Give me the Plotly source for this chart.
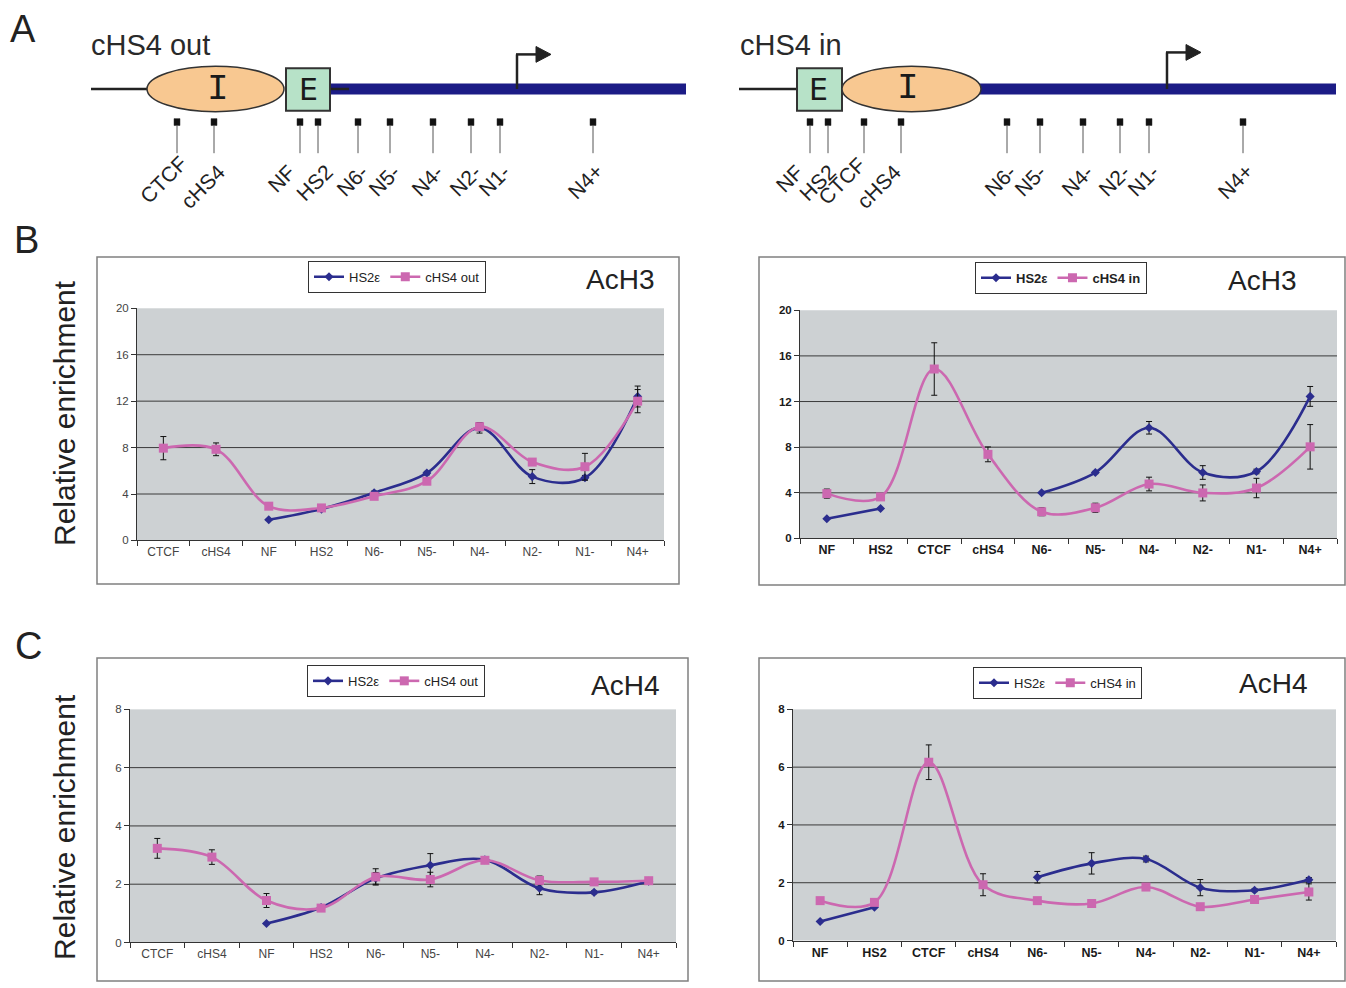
import plotly.graph_objects as go

# ---------------- data ----------------
cats_out = ["CTCF", "cHS4", "NF", "HS2", "N6-", "N5-", "N4-", "N2-", "N1-", "N4+"]
cats_in = ["NF", "HS2", "CTCF", "cHS4", "N6-", "N5-", "N4-", "N2-", "N1-", "N4+"]

# AcH3 - cHS4 out construct
ach3_out_hs2 = [None, None, 1.78, 2.7, 4.1, 5.8, 9.7, 5.5, 5.4, 12.4]
ach3_out_hs2_err = [None, None, None, None, 0.15, 0.15, 0.45, 0.6, 0.2, 0.9]
ach3_out_chs4 = [7.95, 7.85, 2.95, 2.8, 3.8, 5.1, 9.8, 6.75, 6.35, 12.0]
ach3_out_chs4_err = [1.0, 0.55, 0.15, None, 0.15, None, 0.35, 0.2, 1.15, 1.0]

# AcH3 - cHS4 in construct
ach3_in_hs2 = [1.73, 2.63, None, None, 4.0, 5.78, 9.7, 5.78, 5.87, 12.45]
ach3_in_hs2_err = [None, None, None, None, None, 0.1, 0.55, 0.6, 0.2, 0.87]
ach3_in_chs4 = [3.93, 3.64, 14.85, 7.37, 2.34, 2.69, 4.77, 3.99, 4.42, 8.03]
ach3_in_chs4_err = [0.4, 0.2, 2.3, 0.65, 0.35, 0.4, 0.6, 0.7, 0.85, 1.95]

# AcH4 - cHS4 out construct
ach4_out_hs2 = [None, None, 0.65, 1.2, 2.2, 2.65, 2.84, 1.86, 1.72, 2.1]
ach4_out_hs2_err = [None, None, None, None, 0.2, 0.4, 0.1, 0.22, 0.05, None]
ach4_out_chs4 = [3.23, 2.93, 1.44, 1.18, 2.25, 2.16, 2.82, 2.13, 2.08, 2.12]
ach4_out_chs4_err = [0.34, 0.25, 0.24, None, 0.28, 0.25, 0.1, 0.15, None, None]

# AcH4 - cHS4 in construct
ach4_in_hs2 = [0.66, 1.15, None, None, 2.19, 2.67, 2.82, 1.83, 1.74, 2.1]
ach4_in_hs2_err = [None, None, None, None, 0.2, 0.37, 0.1, 0.28, 0.05, 0.08]
ach4_in_chs4 = [1.38, 1.32, 6.17, 1.93, 1.38, 1.28, 1.85, 1.17, 1.42, 1.68]
ach4_in_chs4_err = [None, None, 0.6, 0.38, None, None, None, None, None, 0.28]

series_names = ["HS2\u03b5", "cHS4 out", "cHS4 in"]
mark_names = ["AcH3", "AcH4"]

# probe labels on the construct diagrams
probes_out = cats_out
probes_in = cats_in

# ---------------- layout helpers (pixel -> paper) ----------------
W, H = 1346, 988
FONT = "Liberation Sans, Arial, sans-serif"
BLUE = "#2b2d8e"
PINK = "#cc68b0"
DARK = "#222222"


def X(px):
    return px / W


def Y(py):
    return 1 - py / H


fig = go.Figure()

panels = [
    dict(i=1, cats=cats_out, a=ach3_out_hs2, ae=ach3_out_hs2_err, b=ach3_out_chs4, be=ach3_out_chs4_err,
         bname=series_names[1], leg="legend", px=(137, 664), py=(306, 541), yr=20, dt=4, bold=False),
    dict(i=2, cats=cats_in, a=ach3_in_hs2, ae=ach3_in_hs2_err, b=ach3_in_chs4, be=ach3_in_chs4_err,
         bname=series_names[2], leg="legend2", px=(800, 1337), py=(308, 539), yr=20, dt=4, bold=True),
    dict(i=3, cats=cats_out, a=ach4_out_hs2, ae=ach4_out_hs2_err, b=ach4_out_chs4, be=ach4_out_chs4_err,
         bname=series_names[1], leg="legend3", px=(130, 676), py=(712, 948), yr=8, dt=2, bold=False),
    dict(i=4, cats=cats_in, a=ach4_in_hs2, ae=ach4_in_hs2_err, b=ach4_in_chs4, be=ach4_in_chs4_err,
         bname=series_names[2], leg="legend4", px=(793, 1336), py=(712, 946), yr=8, dt=2, bold=True),
]

shapes = []
annotations = []
layout_axes = {}
for p in panels:
    i = p["i"]
    sfx = "" if i == 1 else str(i)
    xa, ya = "x" + sfx, "y" + sfx
    fig.add_trace(go.Scatter(
        x=p["cats"], y=p["a"], name=series_names[0], mode="lines+markers",
        line=dict(color=BLUE, width=2.6, shape="spline", smoothing=1.0),
        marker=dict(symbol="diamond", size=7, color=BLUE),
        error_y=dict(type="data", array=p["ae"], color="#111111", thickness=1, width=3),
        xaxis=xa, yaxis=ya, legend=p["leg"], connectgaps=False, cliponaxis=False))
    fig.add_trace(go.Scatter(
        x=p["cats"], y=p["b"], name=p["bname"], mode="lines+markers",
        line=dict(color=PINK, width=2.6, shape="spline", smoothing=1.0),
        marker=dict(symbol="square", size=9, color=PINK),
        error_y=dict(type="data", array=p["be"], color="#111111", thickness=1, width=3),
        xaxis=xa, yaxis=ya, legend=p["leg"], connectgaps=False, cliponaxis=False))

    tf = dict(family=FONT, size=12.5 if p["bold"] else 12,
              color="#1a1a1a" if p["bold"] else "#444444",
              weight="bold" if p["bold"] else "normal")
    layout_axes["xaxis" + sfx] = dict(
        domain=[X(p["px"][0]), X(p["px"][1])], anchor=ya, type="category",
        categoryorder="array", categoryarray=p["cats"], range=[-0.5, 9.5],
        showline=True, linecolor="#333333", linewidth=1, ticks="outside", tickson="boundaries",
        ticklen=5, tickcolor="#333333", showgrid=False, tickfont=tf, fixedrange=True)
    layout_axes["yaxis" + sfx] = dict(
        domain=[Y(p["py"][1]), Y(p["py"][0])], anchor=xa, range=[0, p["yr"]], dtick=p["dt"], tick0=0,
        showgrid=False, showline=True, linecolor="#333333",
        linewidth=1, ticks="outside", ticklen=5, tickcolor="#333333", zeroline=False,
        tickfont=dict(family=FONT, size=11.5, color="#1a1a1a" if p["bold"] else "#444444",
                      weight="bold" if p["bold"] else "normal"),
        fixedrange=True)
    # horizontal grid lines at interior ticks (the top edge has none)
    v = p["dt"]
    while v < p["yr"]:
        shapes.append(dict(type="line", xref=xa + " domain", yref=ya, x0=0, x1=1, y0=v, y1=v,
                           line=dict(color="#3a3a3a", width=1), layer="below"))
        v += p["dt"]

legend_pos = {"legend": (308, 258), "legend2": (975, 259), "legend3": (307, 667), "legend4": (973, 669)}
legends = {}
for k, (lx, ly) in legend_pos.items():
    bold = k == "legend2"
    legends[k] = dict(orientation="h", x=X(lx), y=Y(ly), xanchor="left", yanchor="top",
                      bgcolor="white", bordercolor="#333333", borderwidth=1,
                      font=dict(family=FONT, size=13, color="#222222",
                                weight="bold" if bold else "normal"),
                      itemwidth=30, tracegroupgap=0, traceorder="normal",
                      itemclick=False, itemdoubleclick=False)

# outer frames around the charts
for (x0, y0, x1, y1) in [(97, 254, 679, 585), (759, 254, 1345, 586), (97, 660, 688, 987), (759, 660, 1345, 987)]:
    shapes.append(dict(type="rect", xref="paper", yref="paper", x0=X(x0), x1=X(x1), y0=Y(y1), y1=Y(y0),
                       line=dict(color="#808080", width=1.5), fillcolor="rgba(0,0,0,0)", layer="below"))

# chart titles
for txt, (tx, ty) in [(mark_names[0], (620, 277)), (mark_names[0], (1262, 278)),
                      (mark_names[1], (625, 688)), (mark_names[1], (1273, 686))]:
    annotations.append(dict(text=txt, x=X(tx), y=Y(ty), xref="paper", yref="paper", showarrow=False,
                            font=dict(family=FONT, size=28, color=DARK), xanchor="center", yanchor="middle"))

# y-axis titles
for ty in (412, 831):
    annotations.append(dict(text="Relative enrichment", x=X(65), y=Y(ty), xref="paper", yref="paper",
                            showarrow=False, textangle=-90,
                            font=dict(family=FONT, size=30, color=DARK), xanchor="center", yanchor="middle"))

# panel letters
for txt, (tx, ty) in [("A", (23, 23)), ("B", (26, 237)), ("C", (28, 648))]:
    annotations.append(dict(text=txt, x=X(tx), y=Y(ty), xref="paper", yref="paper", showarrow=False,
                            font=dict(family=FONT, size=38, color=DARK), xanchor="center", yanchor="middle"))


# ---------------- construct diagrams (panel A) ----------------
def line(x0, y0, x1, y1, color=DARK, width=2):
    shapes.append(dict(type="line", xref="paper", yref="paper", x0=X(x0), y0=Y(y0), x1=X(x1), y1=Y(y1),
                       line=dict(color=color, width=width)))


def rect(x0, y0, x1, y1, fill, lw=2):
    shapes.append(dict(type="rect", xref="paper", yref="paper", x0=X(x0), x1=X(x1), y0=Y(y1), y1=Y(y0),
                       fillcolor=fill, line=dict(color="#333333", width=lw)))


def ellipse(x0, y0, x1, y1, fill):
    shapes.append(dict(type="circle", xref="paper", yref="paper", x0=X(x0), x1=X(x1), y0=Y(y1), y1=Y(y0),
                       fillcolor=fill, line=dict(color="#333333", width=1.5)))


def arrow(xv, ybase, ytop, xh, xtip):
    line(xv, ybase, xv, ytop, DARK, 2.5)
    line(xv - 1, ytop, xh, ytop, DARK, 2.5)
    path = "M {},{} L {},{} L {},{} Z".format(X(xh), Y(ytop - 8), X(xtip), Y(ytop), X(xh), Y(ytop + 8))
    shapes.append(dict(type="path", xref="paper", yref="paper", path=path, fillcolor=DARK,
                       line=dict(color=DARK, width=1)))


def glyph(txt, x, y, family, size):
    annotations.append(dict(text=txt, x=X(x), y=Y(y), xref="paper", yref="paper", showarrow=False,
                            font=dict(family=family, size=size, color="#1a1a1a"),
                            xanchor="center", yanchor="middle"))


def probes(labels, xs, dxs, dys):
    for lab, px, dx, dy in zip(labels, xs, dxs, dys):
        rect(px - 3, 114, px + 3, 121, "#111111", lw=0.5)
        line(px, 121, px, 149, "#555555", 1)
        annotations.append(dict(text=lab, x=X(px + dx + 10), y=Y(153 + dy), xref="paper", yref="paper",
                                showarrow=False, textangle=-45, xanchor="right", yanchor="top",
                                font=dict(family=FONT, size=21, color="#222222")))


BAR = "#1c1c86"
# cHS4 out construct
annotations.append(dict(text="cHS4 out", x=X(89), y=Y(39), xref="paper", yref="paper", showarrow=False,
                        xanchor="left", yanchor="middle", font=dict(family=FONT, size=29, color="#2a2a2a")))
line(91, 84, 150, 84, DARK, 2.5)
shapes.append(dict(type="rect", xref="paper", yref="paper", x0=X(330), x1=X(686), y0=Y(89.5), y1=Y(78.5),
                   fillcolor=BAR, line=dict(width=0)))
line(328, 84, 349, 84, DARK, 2.5)
ellipse(147, 61, 284, 107, "#f8c891")
rect(286, 63, 330, 106, "#b7e2c8")
glyph("I", 218, 85, "Liberation Mono, Courier New, monospace", 36)
glyph("E", 308, 85, "DejaVu Sans, sans-serif", 30)
arrow(517, 84, 49, 536, 551)
probes(probes_out, [177, 214, 300, 318, 358, 390, 433, 471, 500, 593],
       [7, 8, -8, 12, 7, 7, 7, 7, 7, 7],
       [-9, 0, 0, 0, 0, 0, 0, 0, 0, 0])

# cHS4 in construct
annotations.append(dict(text="cHS4 in", x=X(738), y=Y(39), xref="paper", yref="paper", showarrow=False,
                        xanchor="left", yanchor="middle", font=dict(family=FONT, size=29, color="#2a2a2a")))
line(739, 84, 798, 84, DARK, 2.5)
shapes.append(dict(type="rect", xref="paper", yref="paper", x0=X(978), x1=X(1336), y0=Y(89.5), y1=Y(78.5),
                   fillcolor=BAR, line=dict(width=0)))
rect(797, 63, 842, 106, "#b7e2c8")
ellipse(842, 61, 981, 107, "#f8c891")
glyph("E", 819, 85, "DejaVu Sans, sans-serif", 30)
glyph("I", 908, 84, "Liberation Mono, Courier New, monospace", 36)
arrow(1167, 84, 47, 1186, 1201)
probes(probes_in, [810, 828, 864, 901, 1007, 1040, 1083, 1120, 1149, 1243],
       [-10, 5, -1, -3, 6, 3, 7, 7, 7, 7],
       [0, 0, -7, 0, 0, 0, 0, 0, 0, 0])

fig.update_layout(
    width=W, height=H, autosize=False,
    margin=dict(l=0, r=0, t=0, b=0),
    paper_bgcolor="white", plot_bgcolor="#cdd1d3",
    font=dict(family=FONT, color=DARK),
    shapes=shapes, annotations=annotations,
    **layout_axes, **legends,
)

fig.write_html("out.html", config={"displayModeBar": False},
               post_script="document.body.style.margin='0';document.body.style.overflow='hidden';")
